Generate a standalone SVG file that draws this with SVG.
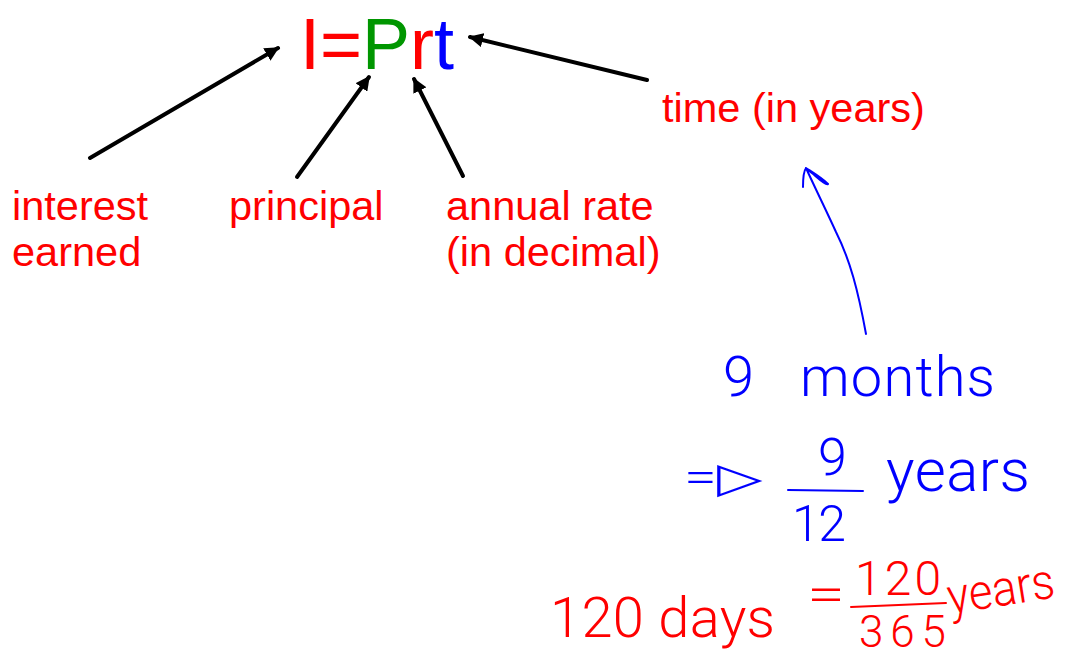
<svg xmlns="http://www.w3.org/2000/svg" width="1067" height="657" viewBox="0 0 1067 657">
<style>
.lbl{font-family:"Liberation Sans",Arial,sans-serif;font-size:41.5px;fill:#ff0000}
.f{font-family:"Liberation Sans",Arial,sans-serif;font-size:72px}
.hw{font-family:Roboto,"Open Sans","Liberation Sans",sans-serif;font-weight:300}
.b{fill:#0000ff}
.r{fill:#ff0000}
.conn{stroke:#000;stroke-width:4;stroke-linecap:round;fill:none}
.ink{fill:none;stroke-width:2;stroke-linecap:round;stroke-linejoin:round}
</style>
<defs>
<marker id="ah" viewBox="0 0 10 10" refX="9" refY="5" markerWidth="3.6" markerHeight="3.6" orient="auto" markerUnits="strokeWidth">
<path d="M0,0 L10,5 L0,10 z" fill="#000"/>
</marker>
</defs>
<rect width="1067" height="657" fill="#fff"/>
<g id="formula">
<text class="f" x="300" y="69"><tspan fill="#ff0000">I=</tspan><tspan fill="#009600">P</tspan><tspan fill="#ff0000">r</tspan><tspan fill="#0000ff">t</tspan></text>
</g>
<g id="interest">
<text class="lbl" x="12" y="220">interest</text>
<text class="lbl" x="12" y="266">earned</text>
</g>
<g id="principal">
<text class="lbl" x="229" y="220">principal</text>
</g>
<g id="rate">
<text class="lbl" x="446" y="220">annual rate</text>
<text class="lbl" x="446" y="266">(in decimal)</text>
</g>
<g id="time">
<text class="lbl" x="662" y="122">time (in years)</text>
</g>
<g id="connectors">
<line class="conn" x1="90" y1="158" x2="278" y2="48" marker-end="url(#ah)"/>
<line class="conn" x1="297" y1="177" x2="369" y2="77" marker-end="url(#ah)"/>
<line class="conn" x1="463" y1="176" x2="414" y2="79" marker-end="url(#ah)"/>
<line class="conn" x1="647" y1="80" x2="470" y2="37" marker-end="url(#ah)"/>
<path class="ink" stroke="#0000ff" d="M866,334 C858,290 850,260 836,232 C826,210 816,190 806,168 M806,168 C803,172 803,180 803,187 M806,168 C812,172 822,178 828,184 C826,186 816,176 808,170"/>
</g>
<g id="months">
<text class="hw b" x="723" y="396" font-size="56">9</text>
<text class="hw b" x="800" y="396" font-size="56" textLength="195" lengthAdjust="spacing">months</text>
<text class="hw b" x="684" y="492" font-size="42" textLength="78" lengthAdjust="spacingAndGlyphs">=▷</text>
<text class="hw b" x="818" y="475" font-size="52">9</text>
<path class="ink" stroke="#0000ff" d="M788,490 L863,491"/>
<text class="hw b" x="792" y="541" font-size="50" textLength="54" lengthAdjust="spacing">12</text>
<text class="hw b" x="886" y="491" font-size="60" textLength="144" lengthAdjust="spacing">years</text>
</g>
<g id="days">
<text class="hw r" x="550" y="637" font-size="56" textLength="225" lengthAdjust="spacing">120 days</text>
<text class="hw r" x="807" y="611" font-size="50" textLength="38" lengthAdjust="spacingAndGlyphs">=</text>
<text class="hw r" x="855" y="595" font-size="48" textLength="86" lengthAdjust="spacing">120</text>
<path class="ink" stroke="#ff0000" d="M851,607 L946,603"/>
<text class="hw r" x="859" y="647" font-size="44" textLength="87" lengthAdjust="spacing">365</text>
<text class="hw r" x="950" y="614" font-size="50" textLength="108" lengthAdjust="spacingAndGlyphs" transform="rotate(-9 950 614)">years</text>
</g>
</svg>
